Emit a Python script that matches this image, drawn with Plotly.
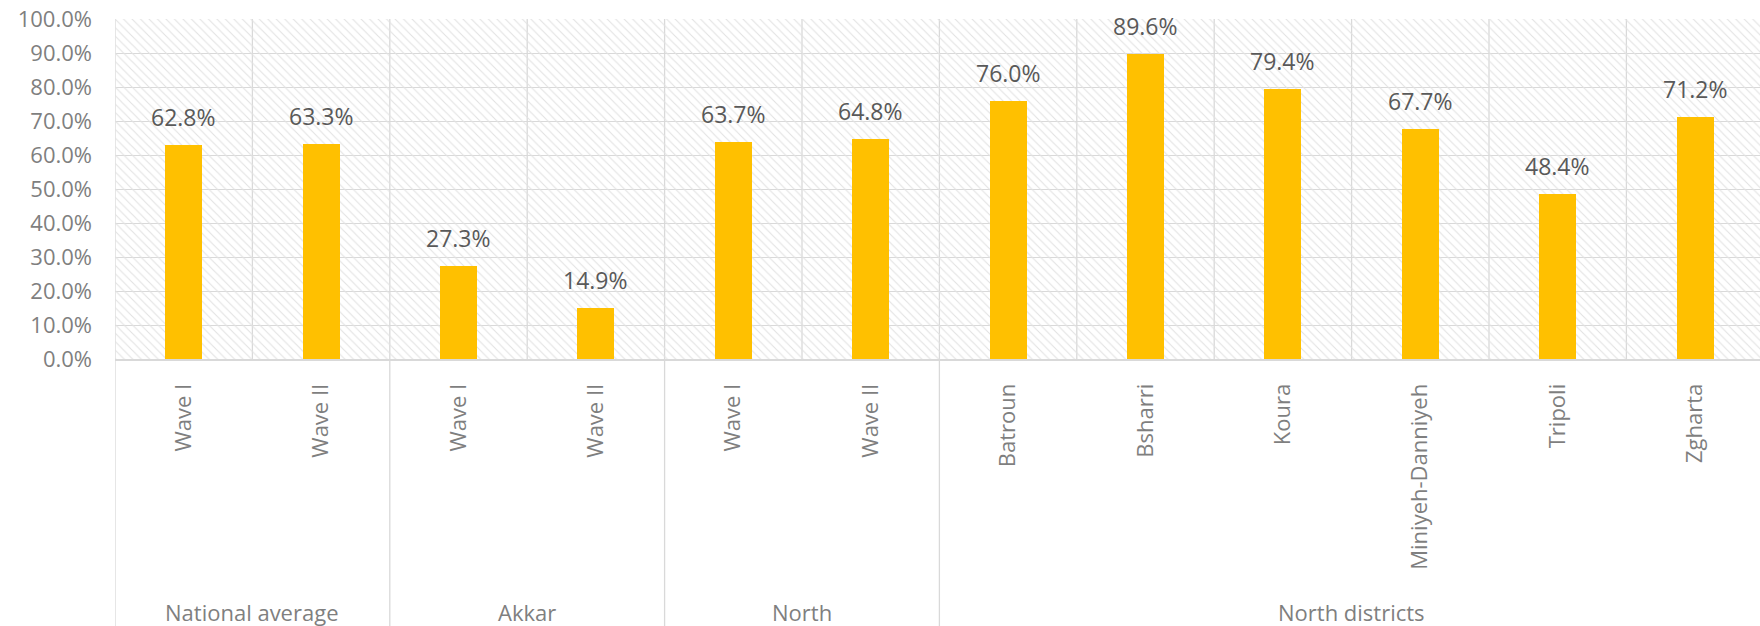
import plotly.graph_objects as go

# ---- data ----
groups = ["National average", "Akkar", "North", "North districts"]
group_sizes = [2, 2, 2, 6]
categories = ["Wave I", "Wave II", "Wave I", "Wave II", "Wave I", "Wave II",
              "Batroun", "Bsharri", "Koura", "Miniyeh-Danniyeh", "Tripoli", "Zgharta"]
values = [0.628, 0.633, 0.273, 0.149, 0.637, 0.648,
          0.760, 0.896, 0.794, 0.677, 0.484, 0.712]

FONT = "Open Sans"
GRID = "#d9d9d9"
n = len(categories)
xs = list(range(n))

fig = go.Figure()

# hatched plot-area background
fig.add_trace(go.Bar(
    x=[(n - 1) / 2], y=[1.0], width=[n + 1], base=0,
    marker=dict(color="rgba(0,0,0,0)", line=dict(width=0),
                pattern=dict(shape="\\", fgcolor="#e2e2e2", bgcolor="rgba(0,0,0,0)",
                             size=6, solidity=0.18, fillmode="replace")),
    hoverinfo="skip", showlegend=False))

# data bars
fig.add_trace(go.Bar(
    x=xs, y=values, width=0.27,
    marker=dict(color="#FFC000", line=dict(width=0)),
    hoverinfo="skip", showlegend=False))

annotations = []
for i, v in enumerate(values):
    annotations.append(dict(x=i, y=v, xref="x", yref="y", text=f"{v*100:.1f}%",
                            showarrow=False, yanchor="bottom", yshift=10,
                            font=dict(family=FONT, size=23, color="#595959")))

shapes = []
# vertical gridlines at category boundaries
for k in range(n + 1):
    shapes.append(dict(type="line", xref="x", yref="paper", x0=k - 0.5, x1=k - 0.5,
                       y0=0, y1=1, line=dict(color=GRID, width=1.3), layer="below"))

# group separators + group labels
start = 0
bottom = -267 / 340
bounds = [-0.5]
for g, s in zip(groups, group_sizes):
    center = start + (s - 1) / 2
    annotations.append(dict(x=center, y=0, xref="x", yref="paper", text=g,
                            showarrow=False, yanchor="middle", yshift=-253,
                            font=dict(family=FONT, size=22, color="#7f7f7f")))
    start += s
    bounds.append(start - 0.5)
for b in bounds:
    shapes.append(dict(type="line", xref="x", yref="paper", x0=b, x1=b,
                       y0=0, y1=bottom, line=dict(color=GRID, width=1.3)))

fig.update_layout(
    width=1760, height=626,
    margin=dict(l=115, r=0, t=19, b=267),
    paper_bgcolor="white", plot_bgcolor="white",
    barmode="overlay", bargap=0,
    font=dict(family=FONT, size=22, color="#7f7f7f"),
    annotations=annotations, shapes=shapes,
    xaxis=dict(range=[-0.5, -0.5 + 1645 / 137.4], tickmode="array", tickvals=xs,
               ticktext=categories, tickangle=-90, showgrid=False, zeroline=False,
               showline=True, linecolor=GRID, linewidth=2, ticks="",
               ticklabelstandoff=14, automargin=False,
               tickfont=dict(family=FONT, size=22, color="#7f7f7f")),
    yaxis=dict(range=[0, 1], dtick=0.1, tickformat=".1%", showgrid=True,
               gridcolor=GRID, gridwidth=1.3, zeroline=False, showline=False,
               ticks="", ticklabelstandoff=22, automargin=False,
               tickfont=dict(family=FONT, size=22, color="#7f7f7f")),
)

fig.write_html("out.html", config={"displayModeBar": False},
               post_script="document.body.style.margin='0';document.body.style.overflow='hidden';")
